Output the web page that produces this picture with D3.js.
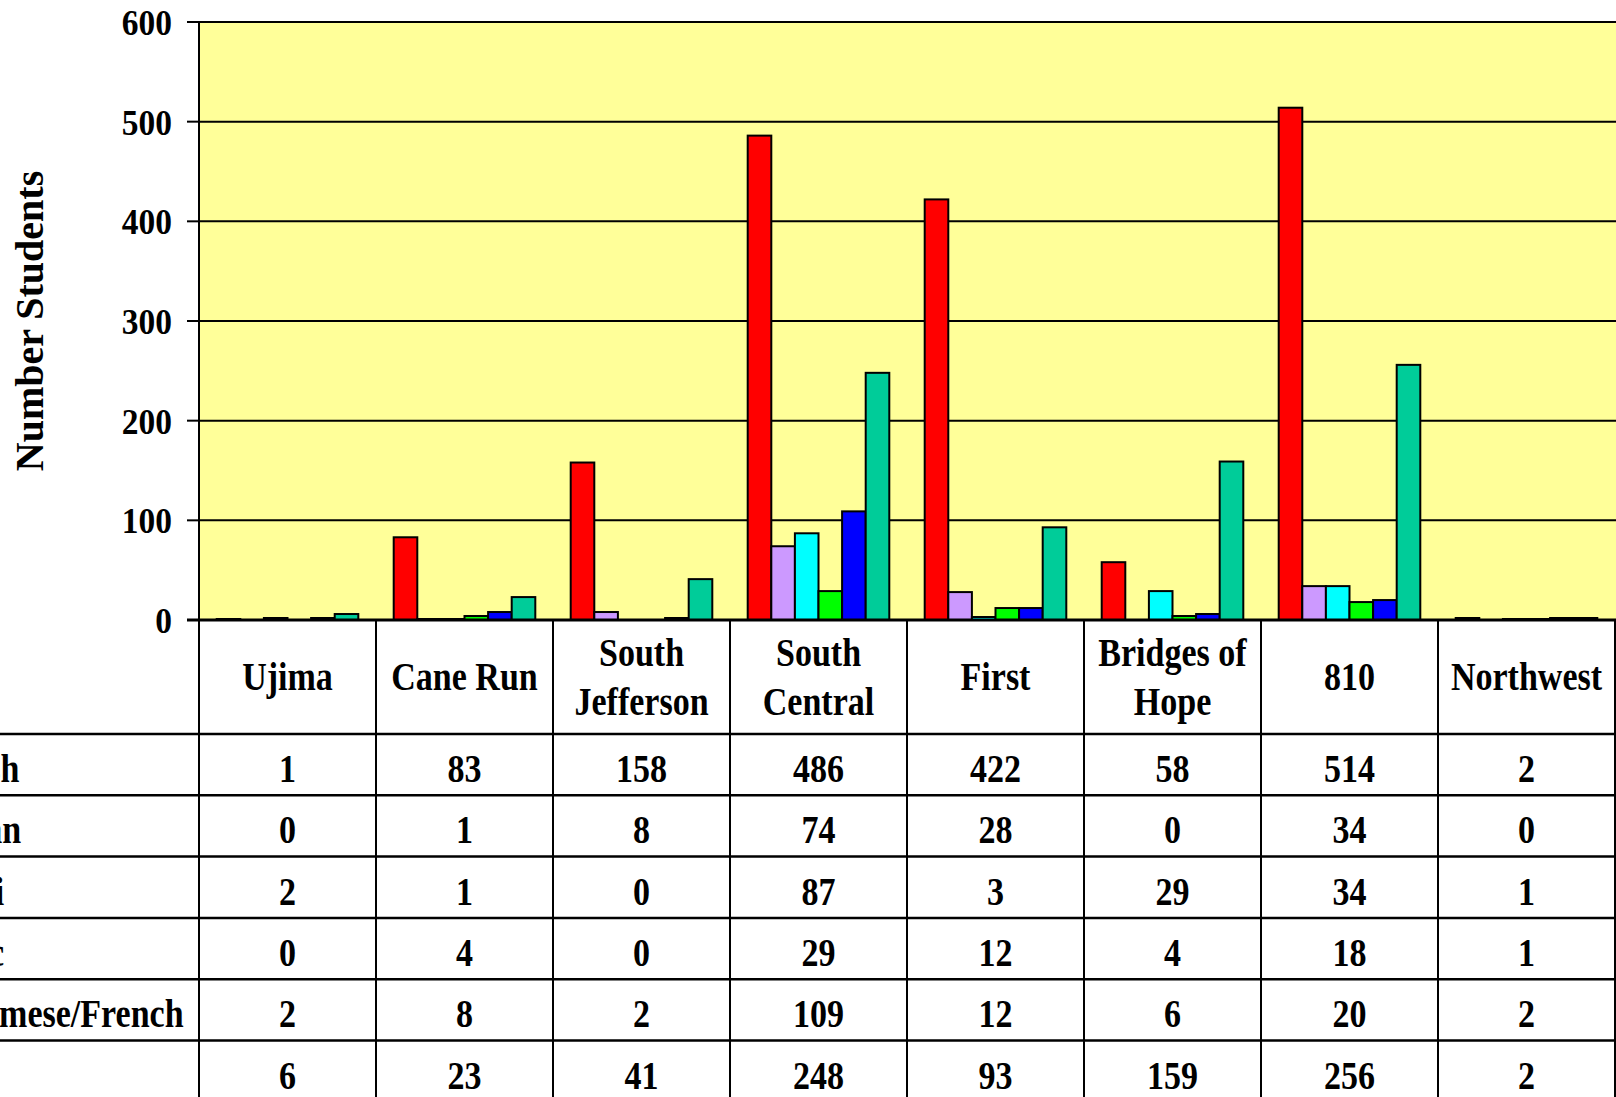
<!DOCTYPE html>
<html>
<head>
<meta charset="utf-8">
<title>Number Students by site and language</title>
<script src="https://cdn.jsdelivr.net/npm/d3@7"></script>
<style>
  html, body { margin: 0; padding: 0; background: #fff; }
  svg { display: block; }
  text { font-family: "Liberation Serif", "Times New Roman", serif; font-weight: bold; fill: #000; }
</style>
</head>
<body>
<div id="vis"></div>
<script>
'use strict';

// Sites along the x axis (also the header row of the data table)
const schools = ['Ujima', 'Cane Run', 'South Jefferson', 'South Central',
  'First', 'Bridges of Hope', '810', 'Northwest'];

// Languages, one bar series and one table row each
const languages = ['Spanish', 'Bosnian', 'Somali', 'Arabic',
  'Vietnamese/French', 'Other'];

// Series values
const spanish = [1, 83, 158, 486, 422, 58, 514, 2];
const bosnian = [0, 1, 8, 74, 28, 0, 34, 0];
const somali = [2, 1, 0, 87, 3, 29, 34, 1];
const arabic = [0, 4, 0, 29, 12, 4, 18, 1];
const vietFrench = [2, 8, 2, 109, 12, 6, 20, 2];
const other = [6, 23, 41, 248, 93, 159, 256, 2];

const yTicks = [0, 100, 200, 300, 400, 500, 600];

const seriesValues = [spanish, bosnian, somali, arabic, vietFrench, other];
const seriesColors = ['#ff0000', '#cc99ff', '#00ffff', '#00ff00', '#0000ff', '#00cc99'];

function barChart() {
  // Constants for sizing
  const width = 1616;
  const height = 1097;

  const plotLeft = 199;
  const plotRight = 1615;
  const plotTop = 22;
  const plotBottom = 620;

  // data table geometry
  const headerBottom = 734;
  const rowHeight = 61.3;

  // the old chart text is squeezed horizontally
  const squeeze = 0.83;
  const tableFont = 41;

  const x0 = d3.scaleBand()
    .domain(schools)
    .range([plotLeft, plotRight]);

  const x1 = d3.scaleBand()
    .domain(languages)
    .range([x0.bandwidth() * 0.1, x0.bandwidth() * 0.9]);

  const y = d3.scaleLinear()
    .domain([0, 600])
    .range([plotBottom, plotTop]);

  const color = d3.scaleOrdinal()
    .domain(languages)
    .range(seriesColors);

  // flatten into one record per bar
  function createBars() {
    const bars = [];
    schools.forEach(function (school, i) {
      languages.forEach(function (lang, j) {
        bars.push({ school: school, lang: lang, value: seriesValues[j][i] });
      });
    });
    return bars.filter(function (d) { return d.value > 0; });
  }

  // places a squeezed text label; anchor is start / middle / end
  function addText(g, str, px, py, size, sx, anchor) {
    return g.append('text')
      .attr('transform', 'translate(' + px + ',' + py + ') scale(' + sx + ',1)')
      .attr('text-anchor', anchor)
      .style('font-size', size + 'px')
      .text(str);
  }

  // greedy word wrap against the column width
  function wrapLines(g, str, maxWidth) {
    const words = str.split(' ');
    const lines = [];
    let line = '';
    const probe = g.append('text').style('font-size', tableFont + 'px');
    words.forEach(function (w) {
      const test = line ? line + ' ' + w : w;
      probe.text(test);
      if (line && probe.node().getComputedTextLength() * squeeze > maxWidth) {
        lines.push(line);
        line = w;
      } else {
        line = test;
      }
    });
    lines.push(line);
    probe.remove();
    return lines;
  }

  const chart = function chart(selector) {
    const svg = d3.select(selector)
      .append('svg')
      .attr('width', width)
      .attr('height', height);

    // plot area background
    svg.append('rect')
      .attr('x', plotLeft)
      .attr('y', plotTop)
      .attr('width', width - plotLeft)
      .attr('height', plotBottom - plotTop)
      .attr('fill', '#ffff99');

    // horizontal gridlines
    svg.append('g')
      .selectAll('line')
      .data(yTicks.filter(function (t) { return t > 0; }))
      .enter().append('line')
      .attr('x1', plotLeft)
      .attr('x2', width)
      .attr('y1', function (d) { return y(d); })
      .attr('y2', function (d) { return y(d); })
      .attr('stroke', '#000')
      .attr('stroke-width', 2);

    // bars
    svg.append('g')
      .selectAll('rect')
      .data(createBars())
      .enter().append('rect')
      .attr('x', function (d) { return x0(d.school) + x1(d.lang); })
      .attr('y', function (d) { return y(d.value); })
      .attr('width', x1.bandwidth())
      .attr('height', function (d) { return plotBottom - y(d.value); })
      .attr('fill', function (d) { return color(d.lang); })
      .attr('stroke', '#000')
      .attr('stroke-width', 2);

    // y axis: ticks and labels
    const axis = svg.append('g');
    axis.selectAll('line')
      .data(yTicks)
      .enter().append('line')
      .attr('x1', plotLeft - 12)
      .attr('x2', plotLeft)
      .attr('y1', function (d) { return y(d); })
      .attr('y2', function (d) { return y(d); })
      .attr('stroke', '#000')
      .attr('stroke-width', 2);
    yTicks.forEach(function (t) {
      addText(axis, t, 172, y(t) + 13, 36, 0.93, 'end');
    });

    svg.append('text')
      .attr('transform', 'translate(43,321) rotate(-90)')
      .attr('text-anchor', 'middle')
      .style('font-size', '40px')
      .text('Number Students');

    // data table
    const table = svg.append('g');
    const nRows = languages.length;

    // category axis line / top of the table
    table.append('line')
      .attr('x1', plotLeft - 12).attr('x2', width)
      .attr('y1', plotBottom).attr('y2', plotBottom)
      .attr('stroke', '#000').attr('stroke-width', 3);

    // row separators
    table.selectAll('line.row')
      .data(d3.range(nRows))
      .enter().append('line')
      .attr('class', 'row')
      .attr('x1', 0).attr('x2', width)
      .attr('y1', function (i) { return headerBottom + i * rowHeight; })
      .attr('y2', function (i) { return headerBottom + i * rowHeight; })
      .attr('stroke', '#000')
      .attr('stroke-width', 2.5);

    // column separators, plot left border included
    table.selectAll('line.col')
      .data(d3.range(schools.length + 1))
      .enter().append('line')
      .attr('class', 'col')
      .attr('x1', function (i) { return plotLeft + i * x0.bandwidth(); })
      .attr('x2', function (i) { return plotLeft + i * x0.bandwidth(); })
      .attr('y1', function (i) { return i === 0 ? plotTop : plotBottom; })
      .attr('y2', height)
      .attr('stroke', '#000')
      .attr('stroke-width', 2);

    // header row: site names
    schools.forEach(function (s) {
      const cx = x0(s) + x0.bandwidth() / 2;
      const lines = wrapLines(table, s, x0.bandwidth() - 12);
      const base = lines.length === 1 ? [690] : [666, 715];
      lines.forEach(function (ln, k) {
        addText(table, ln, cx, base[k], tableFont, squeeze, 'middle');
      });
    });

    // value rows with their language labels
    languages.forEach(function (lang, j) {
      const by = headerBottom + j * rowHeight + 48;
      addText(table, lang, -96, by, tableFont, squeeze, 'start');
      schools.forEach(function (s, i) {
        addText(table, seriesValues[j][i], x0(s) + x0.bandwidth() / 2, by,
          tableFont, squeeze, 'middle');
      });
    });
  };

  return chart;
}

const myBarChart = barChart();
myBarChart('#vis');
</script>
</body>
</html>
